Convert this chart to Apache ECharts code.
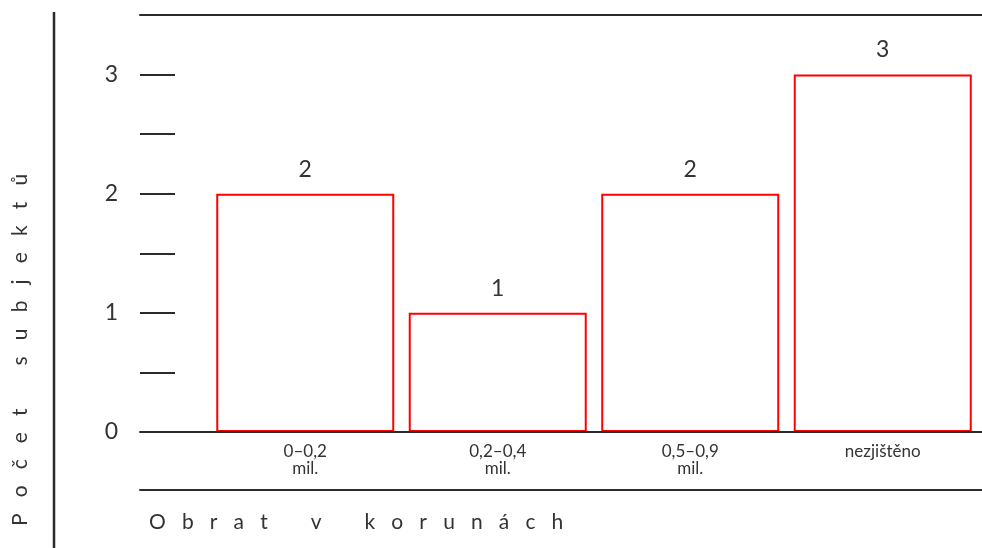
<!DOCTYPE html>
<html>
<head>
<meta charset="utf-8">
<script src="https://cdn.jsdelivr.net/npm/echarts@6/dist/echarts.min.js"></script>
<style>
  body { margin: 0; padding: 0; background: #fff; }
  #chart { width: 982px; height: 548px; }
</style>
</head>
<body>
<div id="chart"></div>
<script>
  // kategorie obratu a počty subjektů
  const categories = ['0–0,2\nmil.', '0,2–0,4\nmil.', '0,5–0,9\nmil.', 'nezjištěno'];
  const counts = [2, 1, 2, 3];
  const yLabels = [0, 1, 2, 3];
  const yTitle = 'Počet subjektů';
  const xTitle = 'Obrat v korunách';

  const ink = '#2b2b2b';
  const font = 'Lato, "Noto Sans", sans-serif';

  // rozestrčené písmo (mezery mezi písmeny)
  function spaced(s) {
    return s.split(' ').map(w => w.split('').join('   ')).join('        ');
  }

  const chart = echarts.init(document.getElementById('chart'));
  const option = {
    animation: false,
    grid: [
      { left: 209, right: 3, top: 15, bottom: 116 },   // sloupce
      { left: 140, right: 0, top: 15, bottom: 116 }    // osy a linky
    ],
    xAxis: [
      {
        type: 'category',
        gridIndex: 0,
        data: categories,
        axisLine: { show: false },
        axisTick: { show: false },
        axisLabel: {
          color: '#333', fontFamily: font, fontSize: 17, lineHeight: 17,
          margin: 11, verticalAlign: 'top'
        }
      },
      {
        type: 'value', gridIndex: 1, position: 'bottom', z: 10,
        axisLine: { show: true, lineStyle: { color: ink, width: 2 } },
        axisTick: { show: false }, axisLabel: { show: false }, splitLine: { show: false }
      },
      {
        type: 'value', gridIndex: 1, position: 'top',
        axisLine: { show: true, lineStyle: { color: ink, width: 2 } },
        axisTick: { show: false }, axisLabel: { show: false }, splitLine: { show: false }
      },
      {
        type: 'value', gridIndex: 1, position: 'bottom', offset: 58,
        axisLine: { show: true, lineStyle: { color: ink, width: 2 } },
        axisTick: { show: false }, axisLabel: { show: false }, splitLine: { show: false }
      }
    ],
    yAxis: [
      {
        type: 'value', gridIndex: 0, min: 0, max: 3.5, interval: 0.5,
        show: false, splitLine: { show: false }
      },
      {
        type: 'value', gridIndex: 1, min: 0, max: 3.5, interval: 0.5,
        axisLine: { show: false },
        axisTick: { show: true, inside: true, length: 35, lineStyle: { color: ink, width: 2 } },
        splitLine: { show: false },
        axisLabel: {
          color: '#333', fontFamily: font, fontSize: 23, margin: 22,
          formatter: v => (yLabels.includes(v) ? String(v) : '')
        }
      }
    ],
    series: [
      {
        type: 'bar',
        xAxisIndex: 0,
        yAxisIndex: 0,
        data: counts,
        barWidth: 178,
        itemStyle: { color: '#fff', borderColor: '#ff0000', borderWidth: 2 },
        label: {
          show: true, position: 'top', distance: 13,
          color: '#333', fontFamily: font, fontSize: 23
        }
      }
    ],
    graphic: [
      {
        type: 'line',
        shape: { x1: 54, y1: 12, x2: 54, y2: 548 },
        style: { stroke: ink, lineWidth: 2.5 }
      },
      {
        type: 'text',
        x: 20, y: 350, rotation: Math.PI / 2,
        style: {
          text: spaced(yTitle), fill: '#333', font: '21px ' + font,
          textAlign: 'center', textVerticalAlign: 'middle'
        }
      },
      {
        type: 'text',
        x: 149, y: 522,
        style: {
          text: spaced(xTitle), fill: '#333', font: '21px ' + font,
          textAlign: 'left', textVerticalAlign: 'middle'
        }
      }
    ]
  };
  chart.setOption(option);
</script>
</body>
</html>
